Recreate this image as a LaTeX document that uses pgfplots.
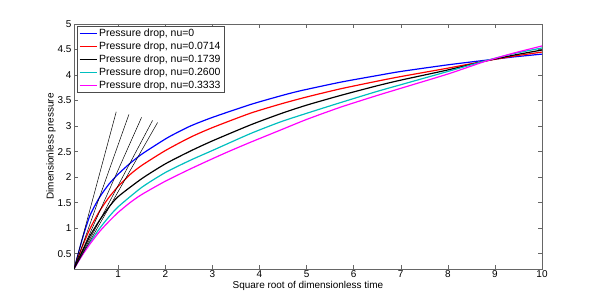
\documentclass[border=0pt]{standalone}
\usepackage{fontspec}
\setmainfont{Liberation Sans}
\usepackage{pgfplots}
\pgfplotsset{compat=1.18}
\definecolor{mcyan}{rgb}{0,0.75,0.75}
\definecolor{mmag}{rgb}{1,0,1}
\begin{document}
\begin{tikzpicture}
\useasboundingbox (-74bp,-30bp) rectangle (526bp,269bp);
\begin{axis}[
  at={(0,0)}, anchor=south west,
  scale only axis, width=468bp, height=245bp,
  xmin=0.06, xmax=10, ymin=0.2, ymax=5,
  xtick={1,2,...,10}, ytick={0.5,1,...,5},
  yticklabels={0.5,1,1.5,2,2.5,3,3.5,4,4.5,5},
  tick align=inside, tick pos=both,
  major tick length=4bp,
  axis line style={black!60, line width=0.6pt},
  tick style={black!60, line width=0.5pt},
  /pgf/number format/assume math mode=true,
  tick label style={font=\fontsize{10}{12}\selectfont},
  xticklabel style={yshift=1.5pt},
  yticklabel style={xshift=1pt},
  xlabel={Square root of dimensionless time},
  ylabel={Dimensionless pressure},
  label style={font=\fontsize{10}{12}\selectfont},
  xlabel style={yshift=4pt},
  ylabel style={yshift=-5pt},
  legend style={at={(0.007,0.992)}, anchor=north west, draw=black!70,
    font=\fontsize{10.5}{12}\selectfont, inner xsep=1.5pt, inner ysep=0.5pt,
    line width=0.5pt},
  legend cell align=left,
  legend image post style={line width=1.2pt},
]
\addplot[color=blue, line width=1.2pt, smooth, tension=0.4] coordinates {
(0.06,0.2)(0.15,0.5)(0.25,0.83)(0.4,1.25)(0.6,1.6)(0.8,1.86)(1.0,2.06)(1.25,2.27)(1.5,2.45)(1.85,2.66)(2.1,2.8)(2.53,3.0)(3.0,3.17)(3.8,3.42)(4.44,3.59)(4.86,3.69)(5.72,3.86)(6.5,3.99)(7.0,4.07)(8.0,4.2)(8.8,4.29)(9.4,4.355)(10,4.41)};
\addlegendentry{Pressure drop, nu=0}
\addplot[color=red, line width=1.2pt, smooth, tension=0.4] coordinates {
(0.06,0.2)(0.15,0.43)(0.25,0.67)(0.4,0.99)(0.6,1.33)(0.8,1.6)(1.0,1.82)(1.25,2.05)(1.5,2.23)(2.0,2.52)(2.53,2.78)(3.0,2.97)(3.8,3.25)(4.44,3.43)(5.0,3.57)(5.72,3.73)(6.5,3.88)(7.0,3.97)(8.0,4.135)(8.8,4.275)(9.4,4.37)(10,4.45)};
\addlegendentry{Pressure drop, nu=0.0714}
\addplot[color=black, line width=1.2pt, smooth, tension=0.4] coordinates {
(0.06,0.2)(0.15,0.38)(0.25,0.57)(0.4,0.85)(0.6,1.15)(0.8,1.41)(1.0,1.62)(1.5,1.97)(2.0,2.26)(2.53,2.51)(3.0,2.71)(3.8,3.02)(4.44,3.24)(5.0,3.41)(5.72,3.6)(6.5,3.79)(7.0,3.9)(8.0,4.1)(8.8,4.275)(9.4,4.39)(10,4.49)};
\addlegendentry{Pressure drop, nu=0.1739}
\addplot[color=mcyan, line width=1.2pt, smooth, tension=0.4] coordinates {
(0.06,0.2)(0.15,0.35)(0.25,0.5)(0.4,0.72)(0.6,0.99)(0.8,1.22)(1.0,1.42)(1.5,1.8)(2.0,2.09)(2.53,2.33)(3.02,2.53)(3.8,2.85)(4.44,3.08)(5.0,3.25)(5.72,3.46)(6.5,3.68)(7.0,3.81)(8.0,4.07)(8.8,4.28)(9.4,4.42)(10,4.53)};
\addlegendentry{Pressure drop, nu=0.2600}
\addplot[color=mmag, line width=1.2pt, smooth, tension=0.4] coordinates {
(0.06,0.2)(0.15,0.34)(0.25,0.49)(0.4,0.69)(0.6,0.93)(0.8,1.13)(1.0,1.31)(1.25,1.5)(1.5,1.66)(2.0,1.92)(2.53,2.16)(3.0,2.36)(3.34,2.5)(3.8,2.68)(4.44,2.92)(5.0,3.13)(5.72,3.37)(6.5,3.6)(7.0,3.74)(8.0,4.02)(8.8,4.27)(9.4,4.43)(10,4.57)};
\addlegendentry{Pressure drop, nu=0.3333}
\addplot[black, line width=0.5pt, forget plot] coordinates {(0.06,0.2)(0.957,3.28)};
\addplot[black, line width=0.5pt, forget plot] coordinates {(0.06,0.2)(1.227,3.23)};
\addplot[black, line width=0.5pt, forget plot] coordinates {(0.06,0.2)(1.495,3.17)};
\addplot[black, line width=0.5pt, forget plot] coordinates {(0.06,0.2)(1.728,3.11)};
\addplot[black, line width=0.5pt, forget plot] coordinates {(0.06,0.2)(1.835,3.07)};
\end{axis}
\end{tikzpicture}
\end{document}
